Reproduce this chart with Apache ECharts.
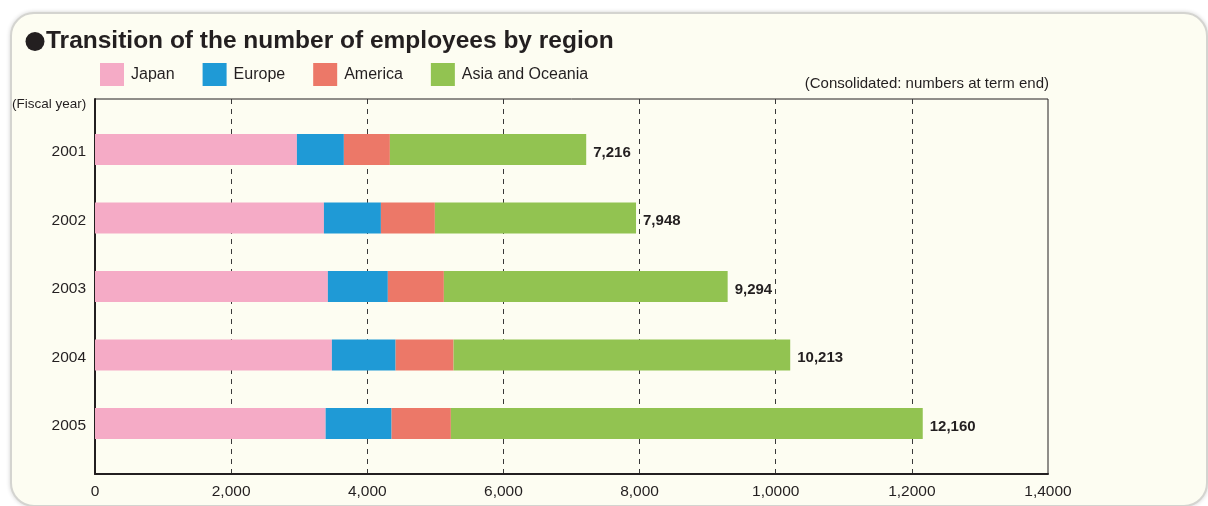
<!DOCTYPE html>
<html>
<head>
<meta charset="utf-8">
<script src="https://cdn.jsdelivr.net/npm/echarts@6/dist/echarts.min.js"></script>
<style>
  html, body { margin: 0; padding: 0; background: #ffffff; }
  .panel {
    position: absolute; left: 10px; top: 12px; width: 1194px; height: 491px;
    background: #fdfdf2; border: 2px solid #d4d4d0; border-radius: 24px;
    box-shadow: 0 0 4px rgba(0,0,0,0.18);
  }
  #chart { position: absolute; left: 0; top: 0; width: 1208px; height: 506px; }
</style>
</head>
<body>
<div class="panel"></div>
<div id="chart"></div>
<script>
// fiscal years, top to bottom
var years = ["2001", "2002", "2003", "2004", "2005"];
// employees by region
var japan = [2966, 3363, 3421, 3480, 3388];
var europe = [690, 837, 881, 936, 969];
var america = [676, 793, 823, 851, 871];
var asiaOceania = [2884, 2955, 4169, 4946, 6932];
// totals printed at bar ends
var totals = [7216, 7948, 9294, 10213, 12160];
// x tick labels as printed in the original
var xTickLabels = ["0", "2,000", "4,000", "6,000", "8,000", "1,0000", "1,2000", "1,4000"];

var myChart = echarts.init(document.getElementById("chart"));
var font = "'Liberation Sans', Arial, sans-serif";
var colors = ["#f5abc6", "#1f9ad6", "#ec7868", "#92c351"];

var option = {
  backgroundColor: "transparent",
  textStyle: { fontFamily: font, color: "#231f20" },
  title: [
    {
      text: "Transition of the number of employees by region",
      left: 46, top: 29, padding: 0,
      textStyle: { fontSize: 24.5, fontWeight: "bold", color: "#231f20", fontFamily: font }
    },
    {
      text: "(Consolidated: numbers at term end)",
      right: 159, top: 76, padding: 0,
      textStyle: { fontSize: 15, fontWeight: "normal", color: "#231f20", fontFamily: font }
    },
    {
      text: "(Fiscal year)",
      left: 12, top: 97, padding: 0,
      textStyle: { fontSize: 13.5, fontWeight: "normal", color: "#231f20", fontFamily: font }
    }
  ],
  // title bullet
  graphic: [
    { type: "circle", shape: { cx: 35, cy: 41.5, r: 9.5 }, style: { fill: "#231f20" }, silent: true }
  ],
  legend: {
    left: 100, top: 63, padding: 0,
    itemWidth: 24, itemHeight: 23, itemGap: 28,
    icon: "rect",
    textStyle: { fontSize: 16, color: "#231f20", fontFamily: font, padding: [0, 0, 0, 2] },
    data: ["Japan", "Europe", "America", "Asia and Oceania"]
  },
  grid: [
    // frame + dashed gridlines
    { left: 95, top: 99, width: 953, height: 375, show: true, borderColor: "#231f20", borderWidth: 1 },
    // bars
    { left: 95, top: 115.25, width: 953, height: 342.5 }
  ],
  xAxis: [
    {
      gridIndex: 0, type: "value", min: 0, max: 14000, interval: 2000,
      axisLine: { show: true, lineStyle: { color: "#231f20", width: 2 } },
      axisTick: { show: false },
      axisLabel: {
        margin: 10, fontSize: 15.5, color: "#231f20", fontFamily: font,
        formatter: function (v) { return xTickLabels[Math.round(v / 2000)]; }
      },
      splitLine: {
        show: true, showMinLine: false, showMaxLine: false,
        lineStyle: { color: "#3a3a3a", width: 1, type: [5, 5] }
      }
    },
    {
      gridIndex: 1, type: "value", min: 0, max: 14000, show: false
    }
  ],
  yAxis: [
    {
      gridIndex: 0, type: "value", min: 0, max: 1,
      axisLine: { show: true, lineStyle: { color: "#231f20", width: 2 } },
      axisTick: { show: false }, axisLabel: { show: false }, splitLine: { show: false }
    },
    {
      gridIndex: 1, type: "category", inverse: true, data: years,
      axisLine: { show: false }, axisTick: { show: false },
      axisLabel: {
        margin: 9, fontSize: 15.5, color: "#231f20", fontFamily: font,
        verticalAlign: "top", lineHeight: 5
      }
    }
  ],
  series: [
    { name: "Japan", data: japan },
    { name: "Europe", data: europe },
    { name: "America", data: america },
    {
      name: "Asia and Oceania", data: asiaOceania,
      label: {
        show: true, position: "right", distance: 7, offset: [0, 3],
        fontSize: 15, fontWeight: "bold", color: "#231f20", fontFamily: font,
        formatter: function (p) { return totals[p.dataIndex].toLocaleString("en-US"); }
      }
    }
  ].map(function (s, i) {
    return Object.assign({
      type: "bar", stack: "total", xAxisIndex: 1, yAxisIndex: 1,
      barWidth: 31, itemStyle: { color: colors[i] }, emphasis: { disabled: true }, silent: true,
      animation: false
    }, s);
  }),
  animation: false
};

myChart.setOption(option);
</script>
</body>
</html>
